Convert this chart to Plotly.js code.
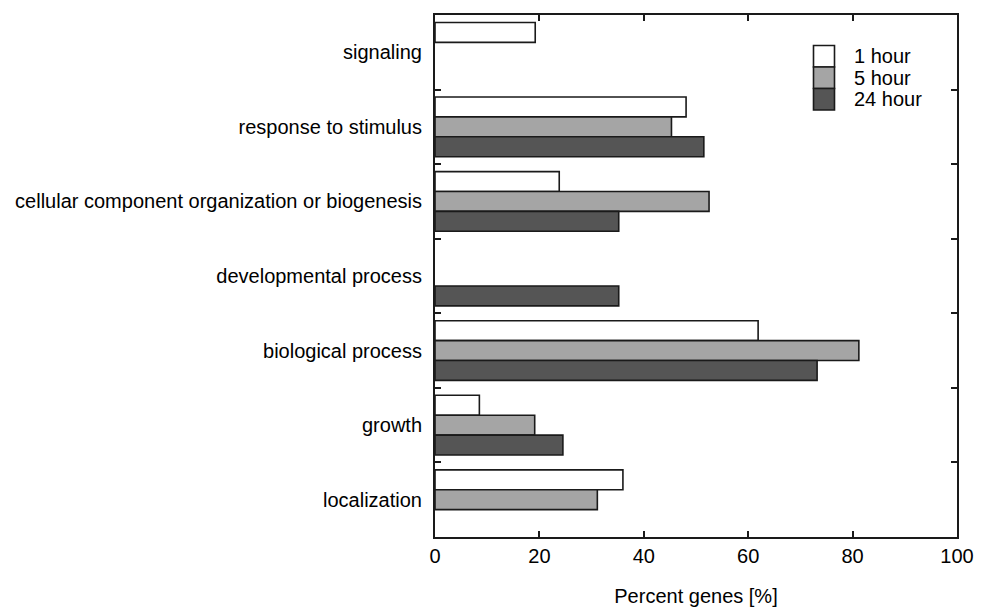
<!DOCTYPE html>
<html>
<head>
<meta charset="utf-8">
<script src="https://cdn.plot.ly/plotly-3.0.1.min.js"></script>
<style>html,body{margin:0;padding:0;background:#fff;}#chart{width:984px;height:607px;}</style>
</head>
<body>
<div id="chart"></div>
<script>
var categories = ["signaling", "response to stimulus", "cellular component organization or biogenesis", "developmental process", "biological process", "growth", "localization"];
var seriesNames = ["1 hour", "5 hour", "24 hour"];
var hour1 = [19.2, 48.1, 23.8, null, 61.9, 8.5, 36.0];
var hour5 = [null, 45.3, 52.5, null, 81.2, 19.1, 31.1];
var hour24 = [null, 51.5, 35.2, 35.2, 73.2, 24.5, null];
var seriesColors = ["#ffffff", "#a5a5a5", "#555555"];
var xTicks = [0, 20, 40, 60, 80, 100];

var FONT = "Liberation Sans, Arial, sans-serif";
var W = 984, H = 607, ML = 435, MR = 27, MT = 15, MB = 70;
var PW = W - ML - MR, PH = H - MT - MB;
function px(x) { return (x - ML) / PW; }
function py(y) { return (H - MB - y) / PH; }

var allValues = [hour1, hour5, hour24];
var traces = allValues.map(function (vals, i) {
  return {
    type: "bar",
    orientation: "h",
    name: seriesNames[i],
    y: categories,
    x: vals,
    marker: { color: seriesColors[i], line: { color: "#1a1a1a", width: 1.6 } },
    showlegend: false,
    hoverinfo: "x+y"
  };
});

// custom legend (swatches + text) so sizes match the original
var shapes = [], annotations = [];
var boxTop = 45.5, boxH = 21.5;
seriesNames.forEach(function (n, i) {
  var y0 = boxTop + i * boxH, y1 = y0 + boxH;
  shapes.push({
    type: "rect", xref: "paper", yref: "paper",
    x0: px(813.5), x1: px(834.5), y0: py(y1), y1: py(y0),
    fillcolor: seriesColors[i], line: { color: "#1a1a1a", width: 1.6 }
  });
  annotations.push({
    xref: "paper", yref: "paper", x: px(852), y: py((y0 + y1) / 2),
    xanchor: "left", yanchor: "middle", showarrow: false,
    text: n, font: { family: FONT, size: 20, color: "#000" }
  });
});

var layout = {
  width: W, height: H,
  margin: { l: ML, r: MR, t: MT, b: MB, pad: 0 },
  paper_bgcolor: "#fff", plot_bgcolor: "#fff",
  font: { family: FONT, size: 20, color: "#000" },
  barmode: "group",
  bargap: 0.2,
  bargroupgap: 0,
  showlegend: false,
  xaxis: {
    range: [0, 100],
    tickvals: xTicks,
    ticktext: xTicks.map(String),
    ticks: "inside", ticklen: 6, tickwidth: 2, tickcolor: "#1a1a1a",
    showline: true, linewidth: 2, linecolor: "#1a1a1a", mirror: "ticks",
    showgrid: false, zeroline: false,
    tickfont: { family: FONT, size: 20, color: "#000" },
    title: { text: "Percent genes [%]", font: { family: FONT, size: 20, color: "#000" }, standoff: 23 }
  },
  yaxis: {
    type: "category",
    autorange: "reversed",
    categoryorder: "array", categoryarray: categories,
    ticks: "inside", tickson: "boundaries", ticklen: 6, tickwidth: 2, tickcolor: "#1a1a1a",
    showline: true, linewidth: 2, linecolor: "#1a1a1a", mirror: "ticks",
    showgrid: false, zeroline: false,
    ticklabelstandoff: 7,
    tickfont: { family: FONT, size: 20, color: "#000" }
  },
  shapes: shapes,
  annotations: annotations
};

Plotly.newPlot("chart", traces, layout, { displayModeBar: false, staticPlot: true });
</script>
</body>
</html>
